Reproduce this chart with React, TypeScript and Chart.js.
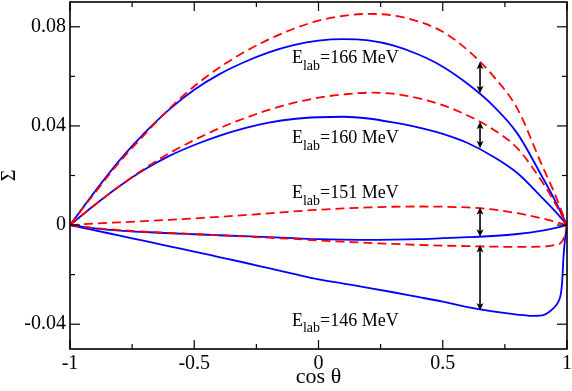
import { useEffect, useRef } from "react";
import { Chart, registerables } from "chart.js";

Chart.register(...registerables);

// ---- data ----
const xsMain = [-1, -0.9, -0.8, -0.7, -0.6, -0.5, -0.4, -0.3, -0.2, -0.1, 0, 0.1, 0.2, 0.3, 0.4, 0.5, 0.6, 0.7, 0.8, 0.9, 0.95, 1];
const blue166 = [0, 0.0135, 0.0262, 0.0372, 0.0467, 0.0546, 0.0608, 0.0657, 0.0697, 0.0726, 0.0744, 0.075, 0.0745, 0.0725, 0.0689, 0.0639, 0.057, 0.0484, 0.037, 0.0195, 0.0103, 0];
const red166 = [0, 0.013, 0.0255, 0.0365, 0.047, 0.056, 0.0635, 0.0697, 0.0749, 0.0792, 0.0825, 0.0844, 0.0852, 0.0846, 0.0822, 0.078, 0.0706, 0.0605, 0.047, 0.024, 0.0128, 0];
const blue160 = [0, 0.0082, 0.0158, 0.0224, 0.0279, 0.0323, 0.036, 0.039, 0.0413, 0.0428, 0.0435, 0.0437, 0.043, 0.0414, 0.0394, 0.0368, 0.0331, 0.0278, 0.021, 0.011, 0.0058, 0];
const red160 = [0, 0.0081, 0.0158, 0.0228, 0.029, 0.0343, 0.039, 0.043, 0.0465, 0.0493, 0.0514, 0.0527, 0.0534, 0.053, 0.0512, 0.0484, 0.0442, 0.0388, 0.031, 0.0175, 0.0092, 0];
const red151 = [0, 0.0006, 0.0011, 0.0016, 0.0021, 0.0027, 0.0033, 0.004, 0.0047, 0.0055, 0.0062, 0.0067, 0.0071, 0.0074, 0.0075, 0.0074, 0.0071, 0.0063, 0.0048, 0.0027, 0.0014, 0];
const blue151 = [0, -0.0013, -0.0022, -0.0028, -0.0033, -0.0037, -0.0041, -0.0045, -0.0049, -0.0053, -0.0057, -0.0059, -0.006, -0.0059, -0.0057, -0.0053, -0.0049, -0.0044, -0.0036, -0.0022, -0.0012, 0];

const xsRed146 = [-1, -0.9, -0.8, -0.7, -0.6, -0.5, -0.4, -0.3, -0.2, -0.1, 0, 0.1, 0.2, 0.3, 0.4, 0.5, 0.6, 0.7, 0.8, 0.9, 0.95, 0.975, 0.99, 1];
const red146 = [0, -0.0012, -0.002, -0.0027, -0.0032, -0.0036, -0.0041, -0.0046, -0.0051, -0.0056, -0.0062, -0.0067, -0.0072, -0.0076, -0.008, -0.0083, -0.0085, -0.0087, -0.0088, -0.0087, -0.0081, -0.0072, -0.0045, 0];
const xsBlue146 = [-1, -0.9, -0.8, -0.7, -0.6, -0.5, -0.4, -0.3, -0.2, -0.1, 0, 0.1, 0.2, 0.3, 0.4, 0.5, 0.6, 0.7, 0.8, 0.85, 0.9, 0.946, 0.966, 0.976, 0.981, 0.986, 0.993, 1];
const blue146 = [0, -0.0021, -0.0043, -0.0064, -0.0086, -0.0107, -0.0129, -0.0151, -0.0174, -0.0197, -0.0219, -0.0236, -0.0253, -0.0271, -0.029, -0.0309, -0.0331, -0.0348, -0.0361, -0.0366, -0.0364, -0.0335, -0.0308, -0.0274, -0.0222, -0.0128, -0.0048, 0];

// arrows (difference markers)
const arrowX = 0.65;
const arrowTops = [0.0659, 0.0417, 0.0072, -0.008];
const arrowBottoms = [0.0532, 0.031, -0.0047, -0.0345];

// curve labels
const energies = ["166", "160", "151", "146"];
const labelX = -0.107;
const labelBaselines = [0.0653, 0.033, 0.0108, -0.0407];

// axes
const xTickValues = [-1, -0.75, -0.5, -0.25, 0, 0.25, 0.5, 0.75, 1];
const xTickLabels = ["-1", "", "-0.5", "", "0", "", "0.5", "", "1"];
const yTickValues = [-0.04, -0.02, 0, 0.02, 0.04, 0.06, 0.08];
const yTickLabels = ["-0.04", "", "0", "", "0.04", "", "0.08"];
const xTitle = "cos θ";
const yTitle = "Σ";

const FONT = "'Liberation Serif', 'Times New Roman', serif";
const BLUE = "#0000ff";
const RED = "#ff0000";

const pts = (xs: number[], ys: number[]) => xs.map((x, i) => ({ x, y: ys[i] }));

const overlay = {
  id: "overlay",
  afterDatasetsDraw(chart: any) {
    const { ctx, chartArea: a, scales } = chart;
    const x = scales.x;
    const y = scales.y;
    ctx.save();
    const line = (x1: number, y1: number, x2: number, y2: number) => {
      ctx.beginPath();
      ctx.moveTo(x1, y1);
      ctx.lineTo(x2, y2);
      ctx.stroke();
    };
    // inward ticks on all four sides
    ctx.strokeStyle = "#000";
    ctx.lineWidth = 1.2;
    xTickValues.forEach((v, i) => {
      const px = x.getPixelForValue(v);
      const len = xTickLabels[i] ? 9 : 5;
      line(px, a.bottom, px, a.bottom - len);
      line(px, a.top, px, a.top + len);
    });
    yTickValues.forEach((v, i) => {
      const py = y.getPixelForValue(v);
      const len = yTickLabels[i] ? 10 : 5;
      line(a.left, py, a.left + len, py);
      line(a.right, py, a.right - len, py);
    });
    // frame
    ctx.lineWidth = 1.6;
    ctx.strokeRect(a.left, a.top, a.right - a.left, a.bottom - a.top);

    // double arrows
    ctx.fillStyle = "#000";
    ctx.strokeStyle = "#000";
    ctx.lineWidth = 1.6;
    const ax = x.getPixelForValue(arrowX);
    const head = (tipY: number, dir: number) => {
      ctx.beginPath();
      ctx.moveTo(ax, tipY);
      ctx.lineTo(ax - 3.5, tipY + dir * 7.5);
      ctx.lineTo(ax, tipY + dir * 5.5);
      ctx.lineTo(ax + 3.5, tipY + dir * 7.5);
      ctx.closePath();
      ctx.fill();
    };
    arrowTops.forEach((t, i) => {
      const y1 = y.getPixelForValue(t);
      const y2 = y.getPixelForValue(arrowBottoms[i]);
      line(ax, y1 + 3, ax, y2 - 3);
      head(y1, 1);
      head(y2, -1);
    });

    // labels
    ctx.fillStyle = "#000";
    ctx.textBaseline = "alphabetic";
    ctx.textAlign = "left";
    energies.forEach((e, i) => {
      let px = x.getPixelForValue(labelX);
      const py = y.getPixelForValue(labelBaselines[i]);
      ctx.font = `18px ${FONT}`;
      ctx.fillText("E", px, py);
      px += ctx.measureText("E").width;
      ctx.font = `14px ${FONT}`;
      ctx.fillText("lab", px, py + 6.5);
      px += ctx.measureText("lab").width;
      ctx.font = `18px ${FONT}`;
      ctx.fillText(`=${e} MeV`, px, py);
    });
    ctx.restore();
  },
};

export default function App() {
  const ref = useRef<HTMLCanvasElement>(null);
  useEffect(() => {
    if (!ref.current) return;
    const solid = (xs: number[], ys: number[]) => ({
      data: pts(xs, ys),
      borderColor: BLUE,
      borderWidth: 1.8,
      pointRadius: 0,
      fill: false,
      cubicInterpolationMode: "monotone" as const,
    });
    const dashed = (xs: number[], ys: number[]) => ({
      data: pts(xs, ys),
      borderColor: RED,
      borderWidth: 1.8,
      borderDash: [9, 5],
      pointRadius: 0,
      fill: false,
      cubicInterpolationMode: "monotone" as const,
    });
    const chart = new Chart(ref.current, {
      type: "line",
      data: {
        datasets: [
          dashed(xsMain, red166),
          dashed(xsMain, red160),
          dashed(xsMain, red151),
          dashed(xsRed146, red146),
          solid(xsMain, blue166),
          solid(xsMain, blue160),
          solid(xsMain, blue151),
          solid(xsBlue146, blue146),
        ],
      },
      options: {
        responsive: false,
        animation: false,
        layout: { padding: { top: 2, right: 5, left: 0, bottom: 0 } },
        plugins: { legend: { display: false }, tooltip: { enabled: false } },
        scales: {
          x: {
            type: "linear",
            min: -1,
            max: 1,
            afterBuildTicks: (s: any) => {
              s.ticks = xTickValues.map((v) => ({ value: v }));
            },
            afterFit: (s: any) => {
              s.height = 42;
              s.paddingLeft = 0;
              s.paddingRight = 0;
            },
            grid: { display: false, drawTicks: false },
            border: { display: false },
            ticks: {
              autoSkip: false,
              maxRotation: 0,
              padding: 3,
              color: "#000",
              font: { family: FONT, size: 20 },
              callback: (_v: any, i: number) => xTickLabels[i],
            },
            title: {
              display: true,
              text: xTitle,
              color: "#000",
              font: { family: FONT, size: 22, lineHeight: 1 },
              padding: { top: 0, bottom: 3 },
            },
          },
          y: {
            type: "linear",
            min: -0.05,
            max: 0.09,
            afterBuildTicks: (s: any) => {
              s.ticks = yTickValues.map((v) => ({ value: v }));
            },
            afterFit: (s: any) => {
              s.width = 70;
              s.paddingTop = 0;
              s.paddingBottom = 0;
            },
            grid: { display: false, drawTicks: false },
            border: { display: false },
            ticks: {
              autoSkip: false,
              padding: 4,
              color: "#000",
              font: { family: FONT, size: 20 },
              callback: (_v: any, i: number) => yTickLabels[i],
            },
            title: {
              display: true,
              text: yTitle,
              color: "#000",
              font: { family: FONT, size: 20, lineHeight: 1 },
              padding: { top: 0, bottom: 0 },
            },
          },
        },
      },
      plugins: [overlay],
    });
    return () => chart.destroy();
  }, []);
  return (
    <div style={{ position: "fixed", left: 0, top: 0, width: 572, height: 391, background: "#fff" }}>
      <canvas ref={ref} width={572} height={391} />
    </div>
  );
}
